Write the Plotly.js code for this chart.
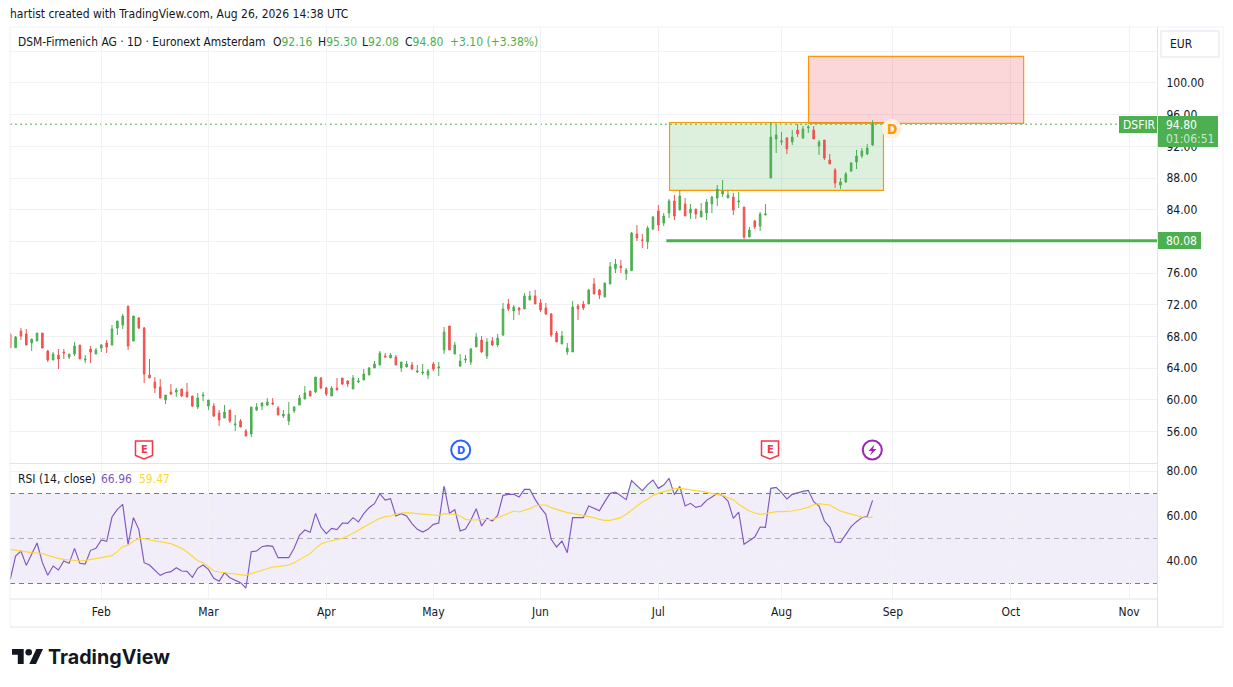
<!DOCTYPE html>
<html>
<head>
<meta charset="utf-8">
<script src="https://cdn.plot.ly/plotly-3.0.1.min.js"></script>
<style>html,body{margin:0;padding:0;background:#fff;overflow:hidden}#chart{width:1233px;height:687px}</style>
</head>
<body>
<div id="chart"></div>
<script>
const barIndex = Array.from({length:162},(_,i)=>i);
const open = [
68.26,66.58,68.68,68.30,67.17,67.42,68.43,66.16,65.02,65.65,
66.03,65.40,65.78,66.91,65.02,66.41,65.78,66.54,67.17,66.91,
69.06,69.44,71.84,67.42,70.32,69.06,63.13,62.24,61.61,59.97,
60.98,60.98,61.36,60.98,60.48,59.09,60.48,59.21,59.21,58.33,
57.70,58.71,56.81,57.32,56.06,55.68,58.71,59.21,59.34,59.59,
58.96,57.95,57.32,58.58,59.34,60.10,61.11,60.99,62.75,61.49,
60.48,61.49,62.75,62.37,61.36,62.25,62.50,63.13,64.02,64.39,
65.53,65.28,65.40,64.02,64.14,64.39,63.51,63.38,63.13,64.52,
64.02,66.29,69.32,65.78,64.27,65.03,64.77,66.67,67.55,65.53,
67.42,66.92,68.18,72.10,71.21,71.59,71.47,72.60,73.11,72.22,
71.59,70.83,68.43,67.05,66.04,66.04,71.84,72.10,72.10,74.62,
73.86,72.98,74.62,76.56,76.89,75.92,76.30,80.93,80.18,79.92,
81.56,83.84,82.32,83.58,85.10,83.96,84.72,83.58,84.09,83.08,
83.58,84.72,85.48,85.98,85.48,85.60,84.97,84.34,80.55,82.57,
81.94,83.33,88.00,92.93,92.55,93.05,92.55,94.06,93.05,94.32,
94.06,92.04,92.80,90.28,89.01,87.12,87.50,88.89,90.02,90.78,
91.03,92.16];
const high = [
68.47,68.05,69.06,68.94,67.67,68.43,68.43,66.28,66.03,66.41,
66.41,65.78,67.29,66.91,65.65,66.79,66.54,67.04,67.55,69.44,
69.95,70.83,71.84,70.58,70.45,69.19,65.15,62.87,62.62,60.60,
61.99,61.49,61.36,62.12,60.48,60.85,60.98,59.97,59.59,58.71,
59.34,58.71,58.08,57.57,56.31,59.09,59.59,59.72,60.22,60.22,
59.21,58.71,59.72,59.21,60.60,61.74,61.11,62.88,62.88,61.62,
61.74,62.75,62.75,62.50,63.13,62.75,63.89,64.14,64.90,66.16,
65.91,65.91,65.66,64.77,64.90,64.77,64.39,64.52,63.89,64.77,
64.77,69.19,69.32,67.30,65.78,65.66,66.54,68.43,68.06,67.80,
67.93,68.31,72.22,72.73,71.97,71.72,73.49,73.74,73.86,72.73,
72.22,70.96,68.69,68.69,67.17,72.48,72.10,72.48,74.00,75.38,
74.00,74.75,77.40,77.78,77.65,76.64,81.19,82.07,80.93,81.94,
83.21,84.59,83.58,85.35,85.86,86.49,85.48,84.72,84.09,84.85,
85.35,85.73,87.12,87.75,86.49,86.11,86.24,84.34,81.82,82.70,
83.71,84.72,95.07,94.70,93.81,93.18,94.06,94.82,94.57,94.70,
94.57,92.80,92.80,91.03,89.27,88.00,88.76,90.02,91.54,91.79,
92.30,95.30];
const low = [
66.49,66.58,67.55,66.91,66.16,67.42,66.54,64.77,65.02,63.88,
65.15,65.15,65.53,65.15,64.64,64.64,65.78,66.03,65.91,66.91,
68.18,68.94,66.28,67.42,68.94,62.12,62.75,60.85,60.22,59.46,
60.60,60.35,60.35,60.35,59.09,58.83,59.84,58.71,57.82,56.69,
57.70,57.07,56.06,56.56,55.42,55.30,58.58,58.71,59.21,59.34,
58.08,57.70,56.81,58.33,59.34,60.10,60.48,60.86,61.36,60.48,
60.48,61.24,61.87,61.62,61.36,62.12,62.50,63.13,64.02,64.39,
65.40,65.28,64.39,63.51,64.14,63.76,63.38,63.13,62.63,63.64,
63.00,65.78,66.29,65.78,64.14,64.65,64.39,66.67,65.91,65.15,
66.79,66.67,68.06,71.21,70.08,70.71,71.47,72.60,72.10,71.09,
70.71,67.93,67.30,67.05,65.66,66.04,70.08,71.34,72.10,73.36,
72.73,72.98,74.62,76.01,76.01,75.12,76.30,80.05,79.16,79.04,
81.44,81.31,81.94,82.95,82.70,83.96,83.21,82.83,82.83,83.08,
82.70,83.58,84.47,85.60,85.48,83.33,84.22,80.30,80.55,81.56,
81.31,83.33,88.00,91.16,92.17,91.03,92.17,93.18,92.93,93.69,
92.93,90.91,90.28,89.77,86.74,86.61,87.37,88.76,89.14,90.53,
90.91,92.08];
const close = [
66.58,67.93,68.05,66.91,67.67,68.43,66.54,65.02,65.78,65.15,
65.91,65.78,66.79,65.15,65.15,66.03,66.28,66.91,66.66,68.94,
69.95,70.58,66.79,70.58,69.06,63.25,62.75,61.49,60.22,60.60,
60.73,61.23,60.48,60.35,59.21,60.22,60.60,59.97,57.95,57.45,
58.45,57.32,56.94,56.56,55.42,59.09,59.09,59.59,59.72,59.46,
58.08,58.20,58.20,59.09,60.22,60.86,60.48,62.88,61.49,60.73,
61.49,61.24,61.99,61.99,62.75,62.37,63.26,64.02,64.52,65.91,
65.40,65.66,64.39,64.77,64.52,63.89,63.64,63.51,63.64,63.89,
64.14,68.56,66.29,66.92,64.90,65.15,66.41,67.93,66.04,67.30,
66.92,67.80,71.47,71.47,71.72,71.34,73.11,73.11,72.10,71.34,
70.83,68.18,67.30,68.06,66.54,71.72,71.47,71.59,73.86,73.36,
73.23,74.75,76.81,77.15,76.68,76.39,81.06,80.43,80.13,81.69,
83.08,82.07,83.21,85.10,83.21,85.73,83.21,84.09,83.46,83.84,
84.97,85.60,86.61,86.36,85.86,83.96,85.10,80.55,81.44,81.82,
83.46,83.46,93.18,93.43,92.68,91.67,93.18,93.56,94.19,94.44,
92.93,92.55,90.53,89.77,87.37,87.50,88.51,89.90,90.78,91.41,
91.79,94.80];
const rsi = [
31.85,42.22,44.44,38.07,42.96,48.00,39.26,33.63,37.77,36.00,
40.00,38.96,45.63,38.96,38.66,44.74,45.63,49.33,48.74,59.55,
62.96,65.18,47.41,59.26,54.07,39.26,38.22,35.85,33.63,34.81,
35.26,37.03,35.55,35.40,32.74,36.74,38.22,36.29,32.29,30.96,
34.81,32.59,31.55,30.37,28.00,44.15,44.44,46.37,46.81,46.51,
41.48,41.48,41.48,45.63,51.40,53.77,52.74,61.18,55.11,52.14,
54.51,53.92,56.88,56.74,59.26,57.33,61.03,63.70,65.48,69.92,
67.11,67.70,60.00,61.03,60.00,56.59,54.07,52.88,54.07,56.29,
56.88,73.33,61.20,62.81,53.33,54.22,58.22,63.26,55.55,58.96,
57.77,60.29,69.18,69.63,69.63,68.44,71.85,71.85,67.40,63.70,
60.74,49.63,46.22,48.89,43.70,59.26,59.11,59.26,64.44,63.40,
62.37,66.37,70.07,70.66,69.03,67.26,75.70,73.33,71.26,73.92,
76.00,72.29,73.77,76.74,69.48,73.18,64.44,65.63,63.85,64.44,
66.96,68.44,70.07,69.03,66.66,58.96,61.77,47.41,49.18,50.66,
55.11,54.96,72.29,72.74,70.37,67.55,69.63,70.37,70.96,71.40,
66.37,64.44,57.77,55.11,48.44,48.29,51.55,55.26,57.48,59.26,
59.85,66.96];
const rsiMA = [
45.18,44.74,44.44,44.00,43.70,43.55,43.40,42.51,41.77,41.18,
40.74,40.44,40.29,40.00,40.29,40.59,41.03,41.48,41.92,42.37,
44.15,46.37,46.96,48.89,49.92,49.92,49.33,49.03,48.74,48.14,
47.70,46.66,45.63,44.00,42.22,40.14,39.26,37.33,35.55,35.11,
34.81,34.66,34.37,34.07,33.63,34.37,35.11,36.00,36.74,37.33,
37.48,37.77,38.22,39.26,40.59,41.77,43.26,45.63,47.55,48.44,
49.03,49.48,50.07,51.11,52.29,53.63,55.11,56.29,57.48,58.96,
59.70,60.00,60.74,61.33,61.48,61.18,61.03,60.74,60.59,60.44,
60.15,61.03,60.88,60.74,60.00,58.51,58.22,58.22,58.37,58.37,
58.51,59.26,60.29,61.48,62.22,61.77,62.51,63.26,64.44,64.88,
64.88,63.70,62.96,62.22,61.48,61.18,60.74,60.00,59.55,59.26,
58.51,58.07,58.07,58.51,59.26,60.74,62.51,64.44,66.22,67.40,
69.18,70.07,70.66,71.55,72.14,72.29,71.85,71.55,71.26,70.96,
70.37,70.07,69.63,69.18,68.14,67.26,65.18,63.70,62.22,61.33,
60.74,61.03,61.48,61.92,61.92,61.92,62.22,62.66,63.40,63.85,
65.03,65.48,65.18,64.88,63.55,62.22,61.48,60.74,60.00,59.55,
59.40,59.47];
const monthTicks = [17,37,59,79,99,121,144,164.8,186.8,208.9];
const monthLabels = ['Feb','Mar','Apr','May','Jun','Jul','Aug','Sep','Oct','Nov'];
const priceTicks = [56,60,64,68,72,76,80,84,88,92,96,100,104];
const priceLabels = ['56.00','60.00','64.00','68.00','72.00','76.00','80.00','84.00','88.00','92.00','96.00','100.00',''];
const rsiTicks = [40,60,80];
const rsiLabels = ['40.00','60.00','80.00'];
const rsiBands = [70,50,30];
const lastPrice = 94.80;
const supportLevel = 80.08;
const supportStart = 122.5;
const demandBox = {x0:123.09,x1:163.04,y0:86.43,y1:95.01};
const supplyBox = {x0:149.04,x1:189.2,y0:94.89,y1:103.35};

const W=1233,H=687;
const GREEN='#4caf50',RED='#ef5350',ORANGE='#ff9800',INK='#131722',GRID='#f1f2f5',EDGE='#e0e3eb';
const PURPLE='#7e57c2',YELLOW='#fdd835';
const FONT='"DejaVu Sans Condensed","DejaVu Sans",sans-serif';
const px=x=>x/W, py=y=>1-y/H;
const rect=(x0,y0,x1,y1,o={})=>Object.assign({type:'rect',xref:'paper',yref:'paper',x0:px(x0),x1:px(x1),y0:py(y0),y1:py(y1),line:{width:0},layer:'above'},o);
const hline=(x0,x1,y,color,o={})=>Object.assign({type:'line',xref:'paper',yref:'paper',x0:px(x0),x1:px(x1),y0:py(y),y1:py(y),line:{color,width:1},layer:'above'},o);
const vline=(x,y0,y1,color)=>({type:'line',xref:'paper',yref:'paper',x0:px(x),x1:px(x),y0:py(y0),y1:py(y1),line:{color,width:1},layer:'above'});
const poly=(pts,o={})=>Object.assign({type:'path',xref:'paper',yref:'paper',path:'M'+pts.map(p=>px(p[0])+' '+py(p[1])).join('L')+'Z',line:{width:0},layer:'above'},o);
const circ=(cx,cy,r,o={})=>Object.assign({type:'circle',xref:'paper',yref:'paper',x0:px(cx-r),x1:px(cx+r),y0:py(cy+r),y1:py(cy-r),layer:'above'},o);
const txt=(x,y,text,o={})=>{
  const a=Object.assign({xref:'paper',yref:'paper',text,showarrow:false,xanchor:'left',yanchor:'middle',borderpad:0,font:{family:FONT,size:12,color:INK}},o);
  a.x=px(a.xanchor==='left'?x-1:x); a.y=py(y); return a;
};

const traces=[
 {type:'candlestick',x:barIndex,open,high,low,close,xaxis:'x',yaxis:'y',
  increasing:{line:{color:GREEN,width:1},fillcolor:GREEN},
  decreasing:{line:{color:RED,width:1},fillcolor:RED},whiskerwidth:0,hoverinfo:'skip',showlegend:false},
 {type:'scatter',mode:'lines',x:barIndex,y:barIndex.map(()=>rsiBands[0]),xaxis:'x',yaxis:'y2',line:{width:0},hoverinfo:'skip',showlegend:false},
 {type:'scatter',mode:'lines',x:barIndex,y:rsi.map(v=>Math.max(v,rsiBands[0])),xaxis:'x',yaxis:'y2',line:{width:0},fill:'tonexty',fillcolor:'rgba(76,175,80,0.12)',hoverinfo:'skip',showlegend:false},
 {type:'scatter',mode:'lines',x:barIndex,y:rsi,xaxis:'x',yaxis:'y2',line:{color:PURPLE,width:1.15},hoverinfo:'skip',showlegend:false},
 {type:'scatter',mode:'lines',x:barIndex,y:rsiMA,xaxis:'x',yaxis:'y2',line:{color:YELLOW,width:1.15},hoverinfo:'skip',showlegend:false}
];

const shapes=[
 // rsi band and levels
 {type:'rect',xref:'paper',yref:'y2',x0:px(10),x1:px(1157),y0:rsiBands[2],y1:rsiBands[0],fillcolor:'rgba(126,87,194,0.1)',line:{width:0},layer:'between'},
 {type:'line',xref:'paper',yref:'y2',x0:px(10),x1:px(1157),y0:rsiBands[0],y1:rsiBands[0],line:{color:'#787b86',width:1,dash:'5px,4px'},layer:'between'},
 {type:'line',xref:'paper',yref:'y2',x0:px(10),x1:px(1157),y0:rsiBands[1],y1:rsiBands[1],line:{color:'rgba(120,123,134,0.55)',width:1,dash:'5px,4px'},layer:'between'},
 {type:'line',xref:'paper',yref:'y2',x0:px(10),x1:px(1157),y0:rsiBands[2],y1:rsiBands[2],line:{color:'#787b86',width:1,dash:'5px,4px'},layer:'between'},
 // zones
 {type:'rect',xref:'x',yref:'y',x0:demandBox.x0,x1:demandBox.x1,y0:demandBox.y0,y1:demandBox.y1,fillcolor:'rgba(76,175,80,0.19)',line:{color:ORANGE,width:1.2},layer:'between'},
 {type:'rect',xref:'x',yref:'y',x0:supplyBox.x0,x1:supplyBox.x1,y0:supplyBox.y0,y1:supplyBox.y1,fillcolor:'rgba(242,54,69,0.2)',line:{color:ORANGE,width:1.2},layer:'between'},
 // price lines
 {type:'line',xref:'paper',yref:'y',x0:px(10),x1:px(1119),y0:lastPrice,y1:lastPrice,line:{color:GREEN,width:1,dash:'2px,3px'},layer:'between'},
 {type:'line',xref:'x',yref:'y',x0:supportStart,x1:214.1,y0:supportLevel,y1:supportLevel,line:{color:GREEN,width:3},layer:'above'},
 // frame
 hline(10,1223,27,EDGE,{line:{color:'#f0f3fa',width:1}}),
 hline(10,1223,627,EDGE),
 vline(10,27,627,GRID),
 vline(1223,27,627,GRID),
 hline(10,1157,463.5,EDGE),
 hline(10,1157,599,EDGE),
 vline(1157.5,27,627,EDGE),
 // price tags
 rect(1119,116,1157,133,{fillcolor:GREEN}),
 rect(1158,116,1218,147,{fillcolor:GREEN}),
 rect(1158,232,1201,249,{fillcolor:GREEN}),
 rect(1161,31,1219,57,{fillcolor:'#ffffff',line:{color:EDGE,width:1}}),
 // event markers
 circ(891.7,129,10,{fillcolor:'#fff3e0',line:{width:0}}),
 poly([[135.5,441],[152.5,441],[152.5,455.5],[144,459],[135.5,455.5]],{fillcolor:'#ffffff',line:{color:'#f23645',width:1.5}}),
 poly([[761.5,441],[778.5,441],[778.5,455.5],[770,459],[761.5,455.5]],{fillcolor:'#ffffff',line:{color:'#f23645',width:1.5}}),
 circ(460.7,450,9.5,{fillcolor:'#ffffff',line:{color:'#2962ff',width:2}}),
 circ(872.3,450,9.5,{fillcolor:'#ffffff',line:{color:'#9c27b0',width:2}}),
 poly([[874.5,444.5],[868.5,451],[872,451],[870,455.5],[876.5,449],[873,449]],{fillcolor:'#9c27b0'}),
 // logo
 poly([[12,649],[23.7,649],[23.7,664],[17.8,664],[17.8,654.8],[12,654.8]],{fillcolor:INK}),
 poly([[36.3,649],[43,649],[36,664],[29.3,664]],{fillcolor:INK}),
 circ(28.7,652.3,3.3,{fillcolor:INK,line:{width:0}})
];

const g=s=>`<span style="color:${GREEN}">${s}</span>`;
const annotations=[
 txt(10,14,'hartist created with TradingView.com, Aug 26, 2026 14:38 UTC'),
 txt(18,42,'DSM-Firmenich AG · 1D · Euronext Amsterdam',{font:{family:FONT,size:11.9,color:INK}}),
 txt(273,42,'O'+g('92.16')),
 txt(318,42,'H'+g('95.30')),
 txt(362,42,'L'+g('92.08')),
 txt(405,42,'C'+g('94.80')),
 txt(450,42,g('+3.10 (+3.38%)')),
 txt(18,479,'RSI (14, close)'),
 txt(101,479,'66.96',{font:{family:FONT,size:12,color:PURPLE}}),
 txt(139,479,'59.47',{font:{family:FONT,size:12,color:YELLOW}}),
 txt(1170,44,'EUR'),
 txt(1123,124.5,'DSFIR',{font:{family:FONT,size:12,color:'#ffffff'}}),
 txt(1166,125,'94.80',{font:{family:FONT,size:12,color:'#ffffff'}}),
 txt(1166,139,'01:06:51',{font:{family:FONT,size:12,color:'rgba(255,255,255,0.72)'}}),
 txt(1166,240.5,'80.08',{font:{family:FONT,size:12,color:'#ffffff'}}),
 txt(891.7,129,'<b>D</b>',{xanchor:'center',font:{family:FONT,size:14,color:ORANGE}}),
 txt(144,449.5,'<b>E</b>',{xanchor:'center',font:{family:FONT,size:11,color:'#f23645'}}),
 txt(770,449.5,'<b>E</b>',{xanchor:'center',font:{family:FONT,size:11,color:'#f23645'}}),
 txt(460.7,450,'<b>D</b>',{xanchor:'center',font:{family:FONT,size:11,color:'#2962ff'}}),
 txt(48,657,'<b>TradingView</b>',{font:{family:'Inter, sans-serif',size:19.7,color:INK}})
];

const layout={
 width:W,height:H,margin:{l:0,r:0,t:0,b:0,pad:0},paper_bgcolor:'#fff',plot_bgcolor:'#fff',
 showlegend:false,hovermode:false,dragmode:false,boxgap:0.58,
 font:{family:FONT,size:12,color:INK},
 xaxis:{type:'linear',domain:[px(10),px(1157)],range:[-0.046,214.1],anchor:'y2',tickmode:'array',tickvals:monthTicks,ticktext:monthLabels,
  showgrid:true,gridcolor:GRID,gridwidth:1,zeroline:false,showline:false,ticks:'outside',ticklen:2,tickcolor:'rgba(0,0,0,0)',rangeslider:{visible:false},tickfont:{family:FONT,size:12,color:INK},fixedrange:true},
 yaxis:{domain:[py(463),py(27)],range:[52.02,107.07],side:'right',anchor:'x',tickmode:'array',tickvals:priceTicks,ticktext:priceLabels,
  showgrid:true,gridcolor:GRID,gridwidth:1,zeroline:false,showline:false,ticks:'outside',ticklen:6,tickcolor:'rgba(0,0,0,0)',tickfont:{family:FONT,size:12,color:INK},fixedrange:true},
 yaxis2:{domain:[py(599),py(464)],range:[23.11,83.11],side:'right',anchor:'x',tickmode:'array',tickvals:rsiTicks,ticktext:rsiLabels,
  showgrid:true,gridcolor:GRID,gridwidth:1,zeroline:false,showline:false,ticks:'outside',ticklen:6,tickcolor:'rgba(0,0,0,0)',tickfont:{family:FONT,size:12,color:INK},fixedrange:true},
 shapes,annotations
};
Plotly.newPlot('chart',traces,layout,{staticPlot:true,displayModeBar:false});
</script>
</body>
</html>
